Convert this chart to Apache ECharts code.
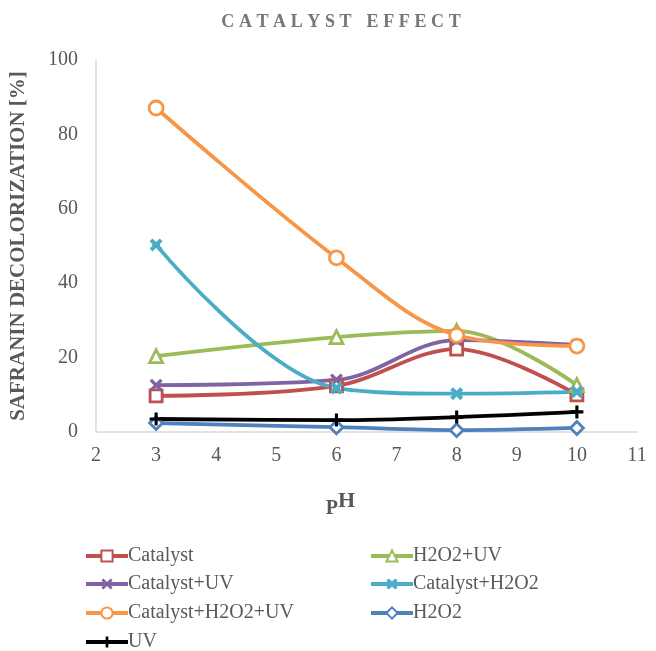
<!DOCTYPE html>
<html><head><meta charset="utf-8">
<script src="https://cdn.jsdelivr.net/npm/echarts@6/dist/echarts.min.js"></script>
<style>html,body{margin:0;padding:0;background:#fff}#c{width:656px;height:651px}</style>
</head><body><div id="c"></div>
<script>
const phValues = [3, 6, 8, 10];
const catalyst = [9.7, 12.4, 22.3, 10.0];
const h2o2uv = [20.4, 25.5, 27.2, 12.6];
const catalystUV = [12.6, 14.0, 24.7, 23.4];
const catalystH2O2 = [50.3, 11.8, 10.3, 10.8];
const catalystH2O2UV = [87.1, 46.8, 26.0, 23.1];
const h2o2 = [2.4, 1.3, 0.5, 1.1];
const uv = [3.5, 3.2, 4.0, 5.4];
const yTicks = [0, 20, 40, 60, 80, 100];
const xTicks = [2, 3, 4, 5, 6, 7, 8, 9, 10, 11];
const titleText = 'CATALYST EFFECT';
const legendLeftCol = ['Catalyst', 'Catalyst+UV', 'Catalyst+H2O2+UV', 'UV'];
const legendRightCol = ['H2O2+UV', 'Catalyst+H2O2', 'H2O2'];

const pair = arr => phValues.map((x, i) => [x, arr[i]]);
const FONT = '"Liberation Serif", "Times New Roman", serif';
const X_PATH = 'path://M0,1.8L1.8,0L5,3.2L8.2,0L10,1.8L6.8,5L10,8.2L8.2,10L5,6.8L1.8,10L0,8.2L3.2,5Z';
const STAR_PATH = 'path://M0,2.2L2.2,0L5,2.8L7.8,0L10,2.2L7.2,5L10,7.8L7.8,10L5,7.2L2.2,10L0,7.8L2.8,5ZM2,3.8H8V6.2H2Z';
const PLUS_PATH = 'path://M3.8,0H6.2V3.8H10V6.2H6.2V10H3.8V6.2H0V3.8H3.8Z';

function hollow(name, data, color, symbol, size) {
  return {
    name, type: 'line', data: pair(data), smooth: 0.35, color,
    symbol, symbolSize: size,
    lineStyle: { color, width: 3.8 },
    itemStyle: { color: '#fff', borderColor: color, borderWidth: 2.8 }
  };
}
function filled(name, data, color, symbol, size) {
  return {
    name, type: 'line', data: pair(data), smooth: 0.35, color,
    symbol, symbolSize: size,
    lineStyle: { color, width: 3.8 },
    itemStyle: { color, borderWidth: 0 }
  };
}

const series = [
  hollow('Catalyst', catalyst, '#C0504D', 'rect', 12),
  hollow('H2O2+UV', h2o2uv, '#9BBB59', 'triangle', 13),
  filled('Catalyst+UV', catalystUV, '#8064A2', X_PATH, 13),
  filled('Catalyst+H2O2', catalystH2O2, '#4BACC6', STAR_PATH, 13),
  hollow('Catalyst+H2O2+UV', catalystH2O2UV, '#F79646', 'circle', 14),
  hollow('H2O2', h2o2, '#4F81BD', 'diamond', 13),
  filled('UV', uv, '#000000', PLUS_PATH, 13)
];

const rowTops = [541, 569, 598, 627];
function makeLegend(name, left, top) {
  return {
    data: [name], left, top, orient: 'horizontal',
    itemWidth: 42, itemHeight: 14, selectedMode: false,
    lineStyle: { width: 4 },
    textStyle: { fontFamily: FONT, fontSize: 20, color: '#595959', padding: [0, 0, 0, -5] }
  };
}
const legends = [];
legendLeftCol.forEach((n, i) => legends.push(makeLegend(n, 79, rowTops[i])));
legendRightCol.forEach((n, i) => legends.push(makeLegend(n, 364, rowTops[i])));

const titleRich = titleText.split('').map(ch => ch === ' ' ? '{sp| }' : '{s|' + ch + '}').join('');

const chart = echarts.init(document.getElementById('c'), null, { renderer: 'canvas' });
chart.setOption({
  animation: false,
  backgroundColor: '#fff',
  title: {
    text: titleRich, left: 214, top: 8,
    textStyle: {
      rich: {
        s: { fontFamily: FONT, fontSize: 18, fontWeight: 'bold', color: '#767676', padding: [0, 2.3, 0, 2.3] },
        sp: { fontFamily: FONT, fontSize: 18, fontWeight: 'bold', color: '#767676', padding: [0, 3, 0, 3] }
      }
    }
  },
  grid: { left: 96, right: 19, top: 60, bottom: 219 },
  xAxis: {
    type: 'value', min: 2, max: 11, interval: 1,
    axisLine: { show: true, onZero: false, lineStyle: { color: '#D9D9D9', width: 1.5 } },
    axisTick: { show: false }, splitLine: { show: false },
    axisLabel: { fontFamily: FONT, fontSize: 20, color: '#595959', margin: 14 },
    name: '{p|P}{h|H}', nameLocation: 'middle', nameGap: 58,
    nameTextStyle: {
      padding: [0, 52, 0, 0],
      rich: {
        p: { fontFamily: FONT, fontSize: 20, fontWeight: 'bold', color: '#595959', padding: [9, 0, 0, 0] },
        h: { fontFamily: FONT, fontSize: 22, fontWeight: 'bold', color: '#595959', padding: [0, 0, 7, 0] }
      }
    }
  },
  yAxis: {
    type: 'value', min: 0, max: 100, interval: 20,
    axisLine: { show: true, lineStyle: { color: '#D9D9D9', width: 1.5 } },
    axisTick: { show: false }, splitLine: { show: false },
    axisLabel: { fontFamily: FONT, fontSize: 20, color: '#595959', margin: 18 },
    name: 'SAFRANIN DECOLORIZATION [%]', nameLocation: 'middle', nameGap: 67,
    nameTextStyle: { fontFamily: FONT, fontSize: 21, fontWeight: 'bold', color: '#595959' }
  },
  legend: legends,
  series
});
</script></body></html>
